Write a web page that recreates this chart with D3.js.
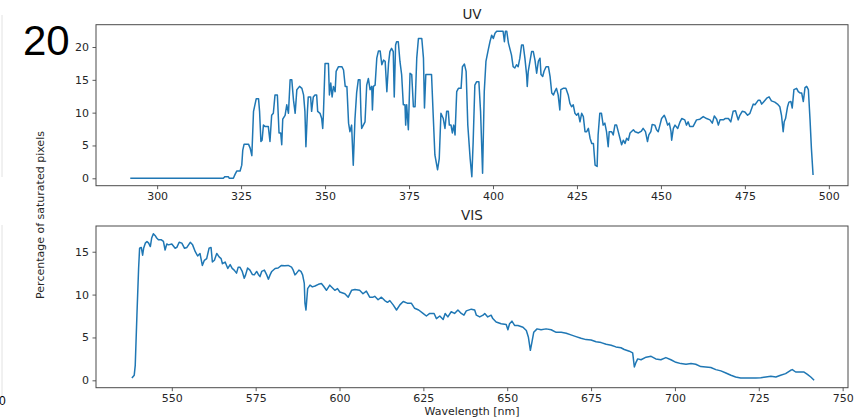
<!DOCTYPE html>
<html>
<head>
<meta charset="utf-8">
<script src="https://cdn.jsdelivr.net/npm/d3@7/dist/d3.min.js"></script>
<style>
  html, body { margin: 0; padding: 0; background: #fff; }
  svg { display: block; }
  text { font-family: "DejaVu Sans", sans-serif; }
</style>
</head>
<body>
<svg id="chart" width="854" height="419"></svg>
<script>
// UV arm: wavelength [nm] and percentage of saturated pixels
const uvWavelength = [292,319.7,320.2,321.2,321.5,322.7,323.2,323.7,324.7,325.2,325.5,325.9,327.2,327.7,328.2,328.7,329.5,330.2,330.5,330.9,331.25,331.65,332.1,333.1,333.6,334.1,334.6,335.1,335.8,336.3,336.8,337.1,337.4,338.1,338.6,339.1,339.6,340.1,340.6,341.1,341.6,342.4,343.1,343.6,344.0,344.3,344.75,345.0,345.7,346.0,346.5,347.0,347.5,347.8,348.5,349.0,349.3,349.5,350.0,351.0,351.3,351.7,352.1,352.5,353.0,353.3,354.0,355.0,355.5,356.0,356.5,357.0,357.4,357.9,358.4,358.9,359.4,359.9,360.4,360.7,360.9,361.4,361.9,362.4,362.9,363.4,363.9,364.1,364.4,364.9,365.4,365.9,366.4,366.9,367.4,367.9,368.4,368.9,369.3,369.8,370.3,370.6,371.0,371.3,371.8,372.3,372.8,373.3,373.8,374.0,374.3,374.8,375.3,375.8,376.3,376.8,377.3,377.8,378.8,379.3,379.6,380.0,380.8,381.7,382.2,382.7,383.5,384.0,384.5,385.2,385.7,386.2,386.7,387.0,387.5,387.9,388.3,388.7,389.2,389.7,390.5,390.9,391.5,392.0,392.5,393.2,393.7,394.1,394.6,395.1,395.8,396.3,396.9,397.4,397.9,398.6,399.1,399.6,400.1,400.6,401.1,403.0,403.4,403.7,404.1,404.6,405.0,405.5,406.0,406.5,407.0,407.5,408.0,408.5,409.0,409.5,410.0,410.2,410.5,411.0,411.5,412.0,412.5,413.0,413.5,414.0,414.3,414.8,415.2,415.8,416.5,417.0,417.5,418.0,418.4,418.9,419.4,419.9,420.2,420.9,421.7,422.4,422.9,423.4,423.9,424.4,424.9,425.4,425.9,426.4,426.9,427.4,427.9,428.4,428.9,429.4,429.9,430.4,431.0,431.3,431.8,432.3,432.8,433.3,433.8,434.3,434.6,435.3,435.8,436.3,436.8,437.3,437.8,438.3,438.8,439.3,439.8,440.3,440.8,441.8,442.3,443.3,444.2,444.7,445.4,446.0,446.4,447.0,447.4,448.2,448.7,449.2,449.7,450.2,451.0,451.4,452.0,452.5,453.0,453.2,453.7,454.2,455.0,455.7,456.2,457.1,457.6,458.1,458.6,459.6,460.1,460.6,461.6,462.6,463.6,464.6,465.3,465.9,466.6,467.1,467.6,468.6,469.1,470.1,470.8,471.5,472.2,473.0,473.5,474.2,475.0,475.8,476.5,477.5,478.0,479.0,479.5,480.0,480.5,481.5,482.2,482.9,483.9,484.7,485.4,485.9,486.4,486.7,487.1,487.7,488.1,488.7,489.1,489.6,490.4,490.9,491.4,491.9,492.4,492.9,493.4,493.9,494.4,494.8,495.3];
const uvPercent = [0,0,0.25,0.25,0,0,0.6,1.1,1.1,2.0,4.3,5.2,5.2,4.6,3.45,10.2,12.1,12.1,10.2,5.6,5.8,8.1,7.9,7.9,5.6,9.6,9.9,12.7,12.7,6.9,6.9,5.1,9.0,9.6,11.2,9.9,15.0,15.0,11.9,9.9,13.5,14.0,13.7,12.7,10.2,4.8,10.2,12.4,12.4,10.2,12.4,12.7,12.7,10.2,9.9,9.1,7.6,9.6,17.5,17.5,12.7,14.5,12.4,14.0,13.2,16.3,17.0,17.0,16.5,14.0,14.0,8.4,7.1,8.1,2.0,9.0,13.0,15.0,15.0,9.6,7.6,8.1,8.6,14.2,15.2,13.5,14.0,10.4,14.0,14.2,18.3,19.4,19.4,17.3,18.0,17.8,13.2,17.5,19.3,19.8,19.3,12.4,20.3,20.8,20.8,17.8,15.8,11.2,11.2,8.1,11.2,7.4,16.0,15.8,10.9,10.9,18.3,21.3,21.3,18.3,10.7,15.8,15.8,15.8,9.6,3.55,1.3,3.0,9.9,9.1,7.6,10.2,10.2,8.1,8.1,6.9,8.1,6.6,13.2,13.7,13.7,17.0,17.4,16.3,8.1,3.0,0.25,5.6,14.2,14.7,14.7,10.2,0.76,13.2,17.8,19.6,20.8,21.8,21.3,22.1,22.4,22.4,20.8,22.4,22.4,20.6,19.8,18.8,17.0,16.8,17.3,17.0,18.3,20.3,20.3,18.3,15.8,14.0,16.3,17.8,19.3,19.3,18.0,16.0,17.8,18.3,15.8,15.5,16.3,17.0,17.0,15.5,13.0,12.7,13.2,13.7,12.7,10.4,13.5,13.7,13.7,12.7,11.4,10.9,11.2,9.9,9.6,9.9,8.6,9.9,9.4,7.1,7.1,7.6,6.1,5.3,5.3,2.0,1.8,6.6,9.9,9.9,8.1,8.4,7.1,4.8,7.1,7.1,6.6,8.1,8.1,7.1,6.1,5.1,5.8,5.3,6.1,5.8,6.9,7.4,7.1,6.9,7.2,7.6,7.1,5.6,6.6,7.1,8.2,8.1,7.4,7.1,8.1,9.1,9.6,9.1,8.1,8.4,7.1,5.8,7.6,8.1,7.6,8.6,9.1,8.9,8.1,8.6,7.9,7.9,8.4,8.9,9.0,9.4,9.1,8.9,8.4,9.5,9.0,8.1,8.9,8.9,9.1,9.1,8.6,10.2,10.3,8.9,9.6,10.2,10.1,9.6,9.9,11.3,11.2,11.9,11.9,11.3,11.6,12.2,12.4,11.8,11.6,11.3,10.9,9.6,7.1,8.6,9.1,10.9,11.6,11.7,10.7,13.5,13.7,13.2,13.0,13.0,11.7,13.8,14.0,13.5,8.9,4.6,0.5];

// VIS arm: wavelength [nm] and percentage of saturated pixels
const visWavelength = [538.1,538.8,539.1,539.6,540.1,540.4,540.9,541.3,541.6,542.1,542.6,543.1,543.6,544.0,544.5,545.0,545.5,546.0,546.8,547.5,548.0,548.5,549.0,550.0,551.0,551.5,552.2,553.0,553.8,554.5,555.5,556.2,557.0,557.7,558.4,559.1,559.7,560.4,561.1,561.7,562.1,562.7,563.4,564.1,564.7,565.1,565.9,566.7,567.4,568.0,568.6,569.3,569.8,570.3,571.0,571.6,572.0,572.6,573.3,574.0,574.6,575.3,575.8,576.3,576.8,577.6,578.3,578.8,579.3,579.8,580.8,581.7,582.7,583.7,584.7,585.7,586.2,586.7,587.2,587.9,588.5,589.0,589.5,589.7,590.0,590.2,590.5,591.2,591.9,592.7,593.7,594.6,595.2,596.1,597.1,598.6,599.4,600.1,601.6,602.6,603.6,604.6,606.0,607.0,608.0,609.0,610.0,610.5,611.5,612.5,613.5,614.3,615.0,616.0,617.0,618.0,619.0,620.2,621.4,622.4,623.6,624.9,625.9,626.9,628.2,628.9,629.9,630.9,631.5,632.3,633.3,634.3,635.3,636.3,637.1,637.8,639.3,640.3,640.8,641.8,642.8,643.3,644.2,645.2,645.7,646.7,648.2,649.7,650.2,650.7,651.4,652.2,653.2,654.7,655.7,656.3,656.9,657.3,657.9,658.9,660.1,661.6,663.1,664.6,666.1,667.6,669.0,670.5,672.0,673.5,675.0,676.5,678.0,679.5,681.0,682.4,683.9,684.9,686.4,687.4,687.9,688.4,688.9,689.9,691.4,692.9,694.3,695.8,697.3,698.8,700.3,701.8,703.3,704.8,706.2,707.7,709.2,710.7,712.2,713.7,715.2,716.7,718.1,719.6,722.6,724.1,725.6,727.1,728.6,730.1,731.5,733.0,734.5,735.0,736.0,737.5,738.5,739.5,740.5,741.5];
const visPercent = [0.27,0.6,1.75,7.6,13.05,15.4,15.5,14.6,15.4,16.0,16.2,16.0,15.6,16.6,17.1,16.9,16.6,16.4,16.4,16.2,15.2,15.9,15.8,15.9,15.4,15.5,16.1,16.0,15.4,15.5,16.1,15.8,15.0,14.5,14.8,13.4,14.0,14.2,15.4,15.5,13.8,14.0,14.8,14.4,14.2,13.6,13.8,13.05,13.5,13.05,12.85,12.5,13.2,13.2,12.7,11.9,12.3,13.1,12.85,12.35,12.3,12.7,12.35,12.1,12.7,12.85,12.3,11.8,12.3,12.7,13.05,13.1,13.4,13.35,13.4,13.2,12.85,12.3,12.5,12.85,12.7,12.3,11.3,9.0,8.2,9.2,10.7,11.1,10.9,11.0,11.2,11.3,11.0,10.5,11.1,10.5,10.7,10.3,10.1,9.7,10.5,10.6,10.5,10.1,10.4,9.7,9.7,9.8,9.4,9.7,9.3,9.1,9.3,8.8,8.2,8.8,9.2,9.0,9.0,8.4,8.2,7.8,7.5,7.8,7.8,7.2,7.5,7.1,7.8,7.4,8.0,7.8,8.2,7.8,7.6,8.1,8.3,8.2,7.6,7.4,7.6,7.8,7.4,7.6,7.2,6.8,6.6,6.5,5.9,6.6,6.9,6.4,6.4,6.2,5.8,5.06,3.5,4.3,5.6,6.0,5.9,6.0,5.9,5.6,5.6,5.5,5.3,5.1,4.9,4.75,4.7,4.5,4.4,4.2,4.1,3.9,3.8,3.6,3.4,3.2,1.56,2.1,2.5,2.4,2.7,2.8,2.5,2.4,2.65,2.4,2.1,1.95,1.87,1.95,1.87,1.6,1.56,1.5,1.25,1.1,0.86,0.59,0.39,0.27,0.27,0.27,0.31,0.39,0.47,0.39,0.59,0.78,1.17,1.25,0.97,0.97,0.97,0.7,0.39,0.0];

const uvXTicks = [300, 325, 350, 375, 400, 425, 450, 475, 500];
const uvYTicks = [0, 5, 10, 15, 20];
const visXTicks = [550, 575, 600, 625, 650, 675, 700, 725, 750];
const visYTicks = [0, 5, 10, 15];

const svg = d3.select("#chart");
const lineColor = "#1f77b4";
const frameColor = "#4a4a4a";
const textColor = "#262626";

// decorative slide edge and page marker
svg.append("line").attr("x1", 2).attr("x2", 2).attr("y1", 15).attr("y2", 177)
  .attr("stroke", "#e2e2e2").attr("stroke-width", 1);
svg.append("line").attr("x1", 2).attr("x2", 2).attr("y1", 225).attr("y2", 396)
  .attr("stroke", "#e2e2e2").attr("stroke-width", 1);
svg.append("text").attr("x", 23).attr("y", 55).text("20")
  .style("font-family", "'Liberation Sans', Arial, sans-serif")
  .style("font-size", "42px").attr("fill", "#000");
svg.append("text").attr("x", -1).attr("y", 405).text("0")
  .style("font-family", "'Liberation Sans', Arial, sans-serif")
  .style("font-size", "12px").attr("fill", "#000");

function panel(cfg) {
  const x = d3.scaleLinear().domain(cfg.xDomain).range([cfg.left, cfg.right]);
  const y = d3.scaleLinear().domain(cfg.yDomain).range([cfg.bottom, cfg.top]);
  const g = svg.append("g");

  const xAxis = d3.axisBottom(x).tickValues(cfg.xTicks).tickSize(3.5).tickPadding(3.5).tickFormat(d3.format("d"));
  const yAxis = d3.axisLeft(y).tickValues(cfg.yTicks).tickSize(3.5).tickPadding(3.5).tickFormat(d3.format("d"));

  const gx = g.append("g").attr("transform", `translate(0,${cfg.bottom})`).call(xAxis);
  const gy = g.append("g").attr("transform", `translate(${cfg.left},0)`).call(yAxis);
  [gx, gy].forEach(a => {
    a.select(".domain").remove();
    a.selectAll(".tick line").attr("stroke", frameColor).attr("stroke-width", 0.9);
    a.selectAll(".tick text").attr("fill", textColor)
      .style("font-family", "'DejaVu Sans', sans-serif").style("font-size", "11px");
  });

  const data = cfg.xs.map((v, i) => [v, cfg.ys[i]]);
  const line = d3.line().x(d => x(d[0])).y(d => y(d[1]));
  g.append("path").datum(data).attr("d", line)
    .attr("fill", "none").attr("stroke", lineColor).attr("stroke-width", 1.5)
    .attr("stroke-linejoin", "round");

  g.append("rect").attr("x", cfg.left).attr("y", cfg.top)
    .attr("width", cfg.right - cfg.left).attr("height", cfg.bottom - cfg.top)
    .attr("fill", "none").attr("stroke", frameColor).attr("stroke-width", 1);

  g.append("text").attr("x", (cfg.left + cfg.right) / 2).attr("y", cfg.top - 6)
    .attr("text-anchor", "middle").attr("fill", textColor)
    .style("font-size", "13.5px").text(cfg.title);
}

panel({
  title: "UV", xs: uvWavelength, ys: uvPercent,
  xDomain: [281.8, 505.7], yDomain: [-1.13, 23.4],
  xTicks: uvXTicks, yTicks: uvYTicks,
  left: 96, right: 848, top: 24.7, bottom: 185.7
});
panel({
  title: "VIS", xs: visWavelength, ys: visPercent,
  xDomain: [527.4, 751.6], yDomain: [-0.86, 18.0],
  xTicks: visXTicks, yTicks: visYTicks,
  left: 96, right: 848, top: 226, bottom: 387.7
});

svg.append("text").attr("x", 472).attr("y", 415).attr("text-anchor", "middle")
  .attr("fill", textColor).style("font-size", "11px").text("Wavelength [nm]");
svg.append("text").attr("transform", "translate(44,215) rotate(-90)")
  .attr("text-anchor", "middle").attr("fill", textColor)
  .style("font-size", "11px").text("Percentage of saturated pixels");
</script>
</body>
</html>
